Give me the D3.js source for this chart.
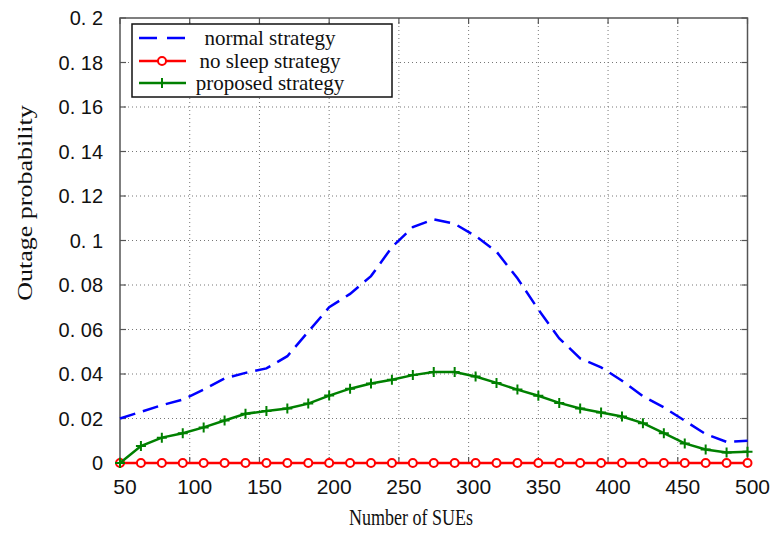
<!DOCTYPE html>
<html>
<head>
<meta charset="utf-8">
<script src="https://cdn.jsdelivr.net/npm/d3@7"></script>
<style>
  body { margin: 0; background: #fff; }
  svg { display: block; }
</style>
</head>
<body>
<script>
let width = 772;
let height = 539;

// data
let xValues = [50, 65, 80, 95, 110, 125, 140, 155, 170, 185, 200, 215, 230, 245, 260, 275,
    290, 305, 320, 335, 350, 365, 380, 395, 410, 425, 440, 455, 470, 485, 500];
let normalStrategy = [0.020, 0.023, 0.026, 0.0285, 0.033, 0.038, 0.0405, 0.0425, 0.048, 0.059,
    0.070, 0.076, 0.084, 0.097, 0.106, 0.1095, 0.1075, 0.102, 0.095, 0.083, 0.069, 0.056,
    0.047, 0.043, 0.037, 0.030, 0.025, 0.019, 0.013, 0.0095, 0.010];
let noSleepStrategy = [0, 0, 0, 0, 0, 0, 0, 0, 0, 0, 0, 0, 0, 0, 0, 0,
    0, 0, 0, 0, 0, 0, 0, 0, 0, 0, 0, 0, 0, 0, 0];
let proposedStrategy = [0, 0.0076, 0.0114, 0.0134, 0.016, 0.0191, 0.0221, 0.0234, 0.0245, 0.0267,
    0.0303, 0.0334, 0.0357, 0.0374, 0.0395, 0.0409, 0.0409, 0.0389, 0.036, 0.033, 0.0302,
    0.027, 0.0245, 0.0227, 0.0209, 0.0179, 0.0134, 0.0088, 0.0061, 0.0047, 0.0051];

let xTicks = [50, 100, 150, 200, 250, 300, 350, 400, 450, 500];
let yTicks = [0, 0.02, 0.04, 0.06, 0.08, 0.1, 0.12, 0.14, 0.16, 0.18, 0.2];
let yTickLabels = ["0", "0. 02", "0. 04", "0. 06", "0. 08", "0. 1", "0. 12", "0. 14", "0. 16", "0. 18", "0. 2"];
let legendLabels = ["normal strategy", "no sleep strategy", "proposed strategy"];

let plotLeft = 120, plotRight = 747.5, plotTop = 18, plotBottom = 463;

let x = d3.scaleLinear().domain([50, 500]).range([plotLeft, plotRight]);
let y = d3.scaleLinear().domain([0, 0.2]).range([plotBottom, plotTop]);

let svg = d3.select("body").append("svg")
    .attr("width", width)
    .attr("height", height);

// grid
svg.append("g").selectAll("line")
    .data(xTicks.slice(1, -1))
    .enter().append("line")
    .attr("x1", d => x(d)).attr("x2", d => x(d))
    .attr("y1", plotTop).attr("y2", plotBottom)
    .attr("stroke", "#777").attr("stroke-width", 1)
    .attr("stroke-dasharray", "1,3");
svg.append("g").selectAll("line")
    .data(yTicks.slice(1, -1))
    .enter().append("line")
    .attr("x1", plotLeft).attr("x2", plotRight)
    .attr("y1", d => y(d)).attr("y2", d => y(d))
    .attr("stroke", "#777").attr("stroke-width", 1)
    .attr("stroke-dasharray", "1,3");

// frame and inward ticks
svg.append("rect")
    .attr("x", plotLeft).attr("y", plotTop)
    .attr("width", plotRight - plotLeft).attr("height", plotBottom - plotTop)
    .attr("fill", "none").attr("stroke", "#555").attr("stroke-width", 1.5);

let ticks = svg.append("g").attr("stroke", "#555").attr("stroke-width", 1.2);
xTicks.forEach(function (d) {
    ticks.append("line").attr("x1", x(d)).attr("x2", x(d)).attr("y1", plotBottom).attr("y2", plotBottom - 6);
    ticks.append("line").attr("x1", x(d)).attr("x2", x(d)).attr("y1", plotTop).attr("y2", plotTop + 6);
});
yTicks.forEach(function (d) {
    ticks.append("line").attr("x1", plotLeft).attr("x2", plotLeft + 6).attr("y1", y(d)).attr("y2", y(d));
    ticks.append("line").attr("x1", plotRight).attr("x2", plotRight - 6).attr("y1", y(d)).attr("y2", y(d));
});

// tick labels
svg.append("g").selectAll("text")
    .data(xTicks)
    .enter().append("text")
    .attr("x", d => x(d) + 5)
    .attr("y", 494)
    .attr("text-anchor", "middle")
    .attr("font-family", "Liberation Sans, Arial, sans-serif")
    .attr("font-size", 21)
    .attr("fill", "#111")
    .text(d => d);
svg.append("g").selectAll("text")
    .data(yTicks)
    .enter().append("text")
    .attr("x", 103)
    .attr("y", d => y(d) + 7)
    .attr("text-anchor", "end")
    .attr("font-family", "Liberation Sans, Arial, sans-serif")
    .attr("font-size", 20)
    .attr("fill", "#111")
    .text((d, i) => yTickLabels[i]);

// axis titles
svg.append("text")
    .attr("transform", "translate(411,525) scale(1,1.3)")
    .attr("text-anchor", "middle")
    .attr("font-family", "Liberation Serif, Times New Roman, serif")
    .attr("font-size", 18)
    .attr("fill", "#111")
    .text("Number of SUEs");
svg.append("text")
    .attr("transform", "translate(32,203) scale(1,1.3) rotate(-90)")
    .attr("text-anchor", "middle")
    .attr("font-family", "Liberation Serif, Times New Roman, serif")
    .attr("font-size", 20)
    .attr("fill", "#111")
    .text("Outage probability");

// series
let line = d3.line()
    .x((d, i) => x(xValues[i]))
    .y(d => y(d));

svg.append("path")
    .attr("d", line(normalStrategy))
    .attr("fill", "none").attr("stroke", "#0000ff").attr("stroke-width", 2.5)
    .attr("stroke-dasharray", "16,8");

svg.append("path")
    .attr("d", line(noSleepStrategy))
    .attr("fill", "none").attr("stroke", "#ff0000").attr("stroke-width", 2.5);
svg.append("g").selectAll("circle")
    .data(noSleepStrategy)
    .enter().append("circle")
    .attr("cx", (d, i) => x(xValues[i]))
    .attr("cy", d => y(d))
    .attr("r", 4)
    .attr("fill", "#fff").attr("stroke", "#ff0000").attr("stroke-width", 2);

svg.append("path")
    .attr("d", line(proposedStrategy))
    .attr("fill", "none").attr("stroke", "#008000").attr("stroke-width", 2.5);
svg.append("g").selectAll("path")
    .data(proposedStrategy)
    .enter().append("path")
    .attr("d", function (d, i) {
        let cx = x(xValues[i]), cy = y(d);
        return "M" + (cx - 5) + "," + cy + "H" + (cx + 5) + "M" + cx + "," + (cy - 5) + "V" + (cy + 5);
    })
    .attr("stroke", "#008000").attr("stroke-width", 2);

// legend
let lg = svg.append("g");
lg.append("rect")
    .attr("x", 132).attr("y", 24)
    .attr("width", 260).attr("height", 73)
    .attr("fill", "#fff").attr("stroke", "#111").attr("stroke-width", 1.5);
let rowY = [38, 61, 83];
let colors = ["#0000ff", "#ff0000", "#008000"];
legendLabels.forEach(function (label, i) {
    let sample = lg.append("line")
        .attr("x1", 139).attr("x2", 186)
        .attr("y1", rowY[i]).attr("y2", rowY[i])
        .attr("stroke", colors[i]).attr("stroke-width", 2.5);
    if (i === 0) sample.attr("stroke-dasharray", "18,10");
    if (i === 1) {
        lg.append("circle").attr("cx", 162).attr("cy", rowY[i]).attr("r", 4)
            .attr("fill", "#fff").attr("stroke", colors[i]).attr("stroke-width", 2);
    }
    if (i === 2) {
        lg.append("path")
            .attr("d", "M157," + rowY[i] + "H167M162," + (rowY[i] - 5) + "V" + (rowY[i] + 5))
            .attr("stroke", colors[i]).attr("stroke-width", 2);
    }
    lg.append("text")
        .attr("x", 270)
        .attr("y", rowY[i] + 7)
        .attr("text-anchor", "middle")
        .attr("font-family", "Liberation Serif, Times New Roman, serif")
        .attr("font-size", 21)
        .attr("fill", "#111")
        .text(label);
});
</script>
</body>
</html>
